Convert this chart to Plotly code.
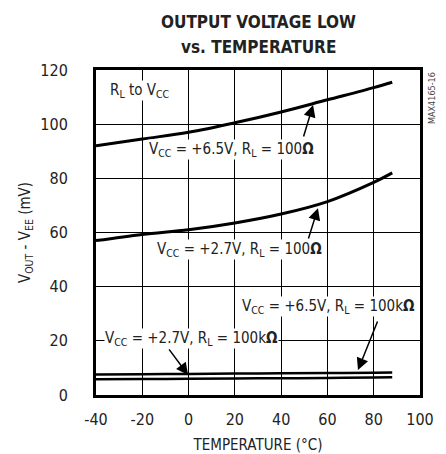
import plotly.graph_objects as go

temp = [-40, -20, 0, 20, 40, 60, 80, 88]
v65_100 = [92, 94.5, 97, 100.5, 104.5, 109, 113.5, 115.5]
v27_100 = [57, 59.3, 61, 63.5, 66.8, 71.4, 78.5, 82]
v65_100k = [7.6, 7.7, 7.8, 7.9, 8.0, 8.1, 8.2, 8.3]
v27_100k = [5.8, 5.9, 6.0, 6.1, 6.2, 6.3, 6.5, 6.6]

x_ticks = [-40, -20, 0, 20, 40, 60, 80, 100]
y_ticks = [0, 20, 40, 60, 80, 100, 120]

FONT = "Liberation Sans Narrow, DejaVu Sans Condensed, Arial Narrow, sans-serif"

fig = go.Figure()
for ys, w in [(v65_100, 3), (v27_100, 3), (v65_100k, 2.5), (v27_100k, 2.5)]:
    fig.add_trace(go.Scatter(x=temp, y=ys, mode="lines",
                             line=dict(color="black", width=w, shape="spline"),
                             showlegend=False, hoverinfo="skip"))

labels = [
    ("R<sub>L</sub> to V<sub>CC</sub>", -21, 112.6, None),
    ("V<sub>CC</sub> = +6.5V, R<sub>L</sub> = 100<b>Ω</b>", 18.6, 90.5, (49.5, 94.9, 53.8, 107.1)),
    ("V<sub>CC</sub> = +2.7V, R<sub>L</sub> = 100<b>Ω</b>", 22.2, 53.9, (51.6, 57.2, 55.9, 69.0)),
    ("V<sub>CC</sub> = +6.5V, R<sub>L</sub> = 100k<b>Ω</b>", 60.5, 32.6, (81.9, 27.7, 73.2, 9.2)),
    ("V<sub>CC</sub> = +2.7V, R<sub>L</sub> = 100k<b>Ω</b>", 1.3, 21.0, (-8.9, 17.4, -0.2, 7.4)),
]
for text, x, y, arr in labels:
    if arr:
        tx, ty, hx, hy = arr
        fig.add_annotation(x=hx, y=hy, ax=tx, ay=ty, axref="x", ayref="y",
                           xref="x", yref="y", text="", showarrow=True,
                           arrowhead=2, arrowsize=1.6, arrowwidth=1.5,
                           arrowcolor="black", standoff=0)
    fig.add_annotation(x=x, y=y, xref="x", yref="y", text=text, showarrow=False,
                       bgcolor="white", borderpad=0,
                       font=dict(family=FONT, size=15, color="#222"))

for line, py in [("<b>OUTPUT VOLTAGE LOW</b>", 1.1477), ("<b>vs. TEMPERATURE</b>", 1.0708)]:
    fig.add_annotation(x=0.503, y=py, xref="paper", yref="paper", yanchor="middle",
                       text=line, showarrow=False,
                       font=dict(family=FONT, size=17, color="#222"))
fig.add_annotation(x=1.037, y=1.0, xref="paper", yref="paper", xanchor="center",
                   yanchor="top", text="MAX4165-16", textangle=-90,
                   showarrow=False, font=dict(family=FONT, size=9, color="#444"))

fig.update_layout(
    width=438, height=446,
    margin=dict(l=88, r=26, t=62, b=59),
    paper_bgcolor="white", plot_bgcolor="white",
    font=dict(family=FONT, size=16, color="#222"),
    showlegend=False,
)
fig.update_xaxes(range=[-40, 100], tickvals=x_ticks, ticktext=[str(v) for v in x_ticks],
                 automargin=False,
                 showgrid=True, gridcolor="black", gridwidth=1, zeroline=False,
                 showline=True, linecolor="black", linewidth=3, mirror=True,
                 ticks="outside", ticklen=8, tickcolor="rgba(0,0,0,0)",
                 title=dict(text="TEMPERATURE (°C)", font=dict(size=15), standoff=12))
fig.update_yaxes(range=[0, 120], tickvals=y_ticks, ticktext=[str(v) for v in y_ticks],
                 automargin=False,
                 showgrid=True, gridcolor="black", gridwidth=1, zeroline=False,
                 showline=True, linecolor="black", linewidth=3, mirror=True,
                 ticks="outside", ticklen=22, tickcolor="rgba(0,0,0,0)",
                 title=dict(text="V<sub>OUT</sub> - V<sub>EE</sub> (mV)", font=dict(size=15), standoff=7))

fig.write_html("out.html")
